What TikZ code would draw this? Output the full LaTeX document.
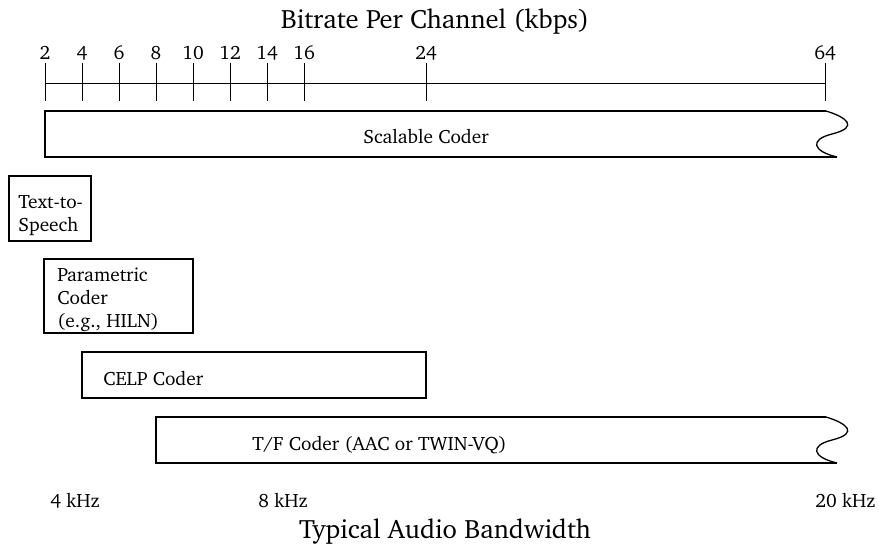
\documentclass[tikz,border=0pt]{standalone}
\usepackage[T1]{fontenc}
\usepackage{charter}
\usetikzlibrary{positioning}

\tikzset{
  boxline/.style={line width=.65pt},
  lbl/.style={inner sep=0pt,font=\fontsize{9.65}{11.3}\selectfont},
  ttl/.style={inner sep=0pt,font=\fontsize{13.3}{16}\selectfont},
  wavyend/.pic={\draw[boxline] (0,0) .. controls (20,6) and (34,16) .. (6,23)
      .. controls (-16.4,28.6) and (-14,40) .. (11,46);}
}

\begin{document}
\begin{tikzpicture}[x=.5pt,y=-.5pt]
\useasboundingbox (0,0) rectangle (879,546);
% bitrate axis
\node[ttl,anchor=base] (rate) at (435,28) {Bitrate Per Channel (kbps)};
\coordinate (a0) at (45,83);
\coordinate (a1) at (825,83);
\draw[line width=.5pt] (a0)--(a1);
\foreach \x/\v in {45/2,82/4,119/6,156/8,193/10,230/12,267/14,304/16,426/24,825/64}{
  \draw[line width=.5pt] (\x,63)--(\x,101);
  \node[lbl,anchor=base] (k\v) at (\x,60) {\v};
}
% scalable
\draw[boxline] (826,111)--(45,111)--(45,157)--(837,157);
\pic at (826,111) {wavyend};
\node[lbl,anchor=base] (scal) at (426,143) {Scalable Coder};
% text-to-speech
\draw[boxline] (9,176) rectangle (91,241);
\node[lbl,anchor=base west,align=left] (tts) at (18,231) {Text-to-\\Speech};
% parametric
\draw[boxline] (44,259) rectangle (193,333);
\node[lbl,anchor=base west,align=left] (par) at (57,327) {Parametric\\Coder\\(e.g., HILN)};
% celp
\draw[boxline] (82,352) rectangle (426,398);
\node[lbl,anchor=base west] (celp) at (103,385) {CELP Coder};
% t/f
\draw[boxline] (826,417)--(156,417)--(156,463)--(837,463);
\pic at (826,417) {wavyend};
\node[lbl,anchor=base west] (tf) at (252,450) {T/F Coder (AAC or TWIN-VQ)};
% bandwidth
\node[lbl,anchor=base west] (bw4) at (50,507) {4 kHz};
\node[lbl,anchor=base west] (bw8) at (258,507) {8 kHz};
\node[lbl,anchor=base west] (bw20) at (815,507) {20 kHz};
\node[ttl,anchor=base] (band) at (445,538) {Typical Audio Bandwidth};
\end{tikzpicture}
\end{document}
